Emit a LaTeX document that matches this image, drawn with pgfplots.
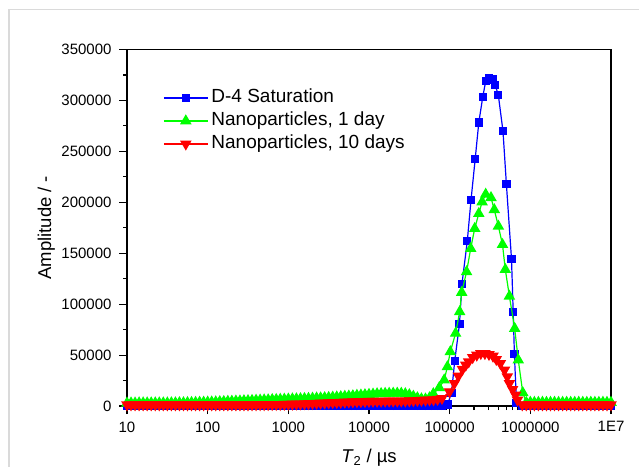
\documentclass[border=0pt]{standalone}
\usepackage{pgfplots}
\pgfplotsset{compat=1.18}
\usepackage{pgfplotstable}
\usepackage{fontspec}
\setmainfont{Liberation Sans}

\pgfplotstableread{
x y
1e1 0
1.259e1 0
1.585e1 0
1.995e1 0
2.512e1 0
3.162e1 0
3.981e1 0
5.012e1 0
6.310e1 0
7.943e1 0
1e2 0
1.259e2 0
1.585e2 0
1.995e2 0
2.512e2 0
3.162e2 0
3.981e2 0
5.012e2 0
6.310e2 0
7.943e2 0
1e3 0
1.259e3 0
1.585e3 0
1.995e3 0
2.512e3 0
3.162e3 0
3.981e3 0
5.012e3 0
6.310e3 0
7.943e3 0
1e4 0
1.259e4 0
1.585e4 0
1.995e4 0
2.512e4 0
3.162e4 0
3.981e4 0
5.012e4 0
6.310e4 0
7.943e4 0
9.40e4 1500
1.053e5 12700
1.154e5 44000
1.323e5 80400
1.421e5 120000
1.654e5 162000
1.838e5 202000
2.073e5 242700
2.296e5 278300
2.574e5 303600
2.804e5 319300
3.090e5 321500
3.395e5 320600
3.667e5 315000
4.006e5 305500
4.581e5 269800
5.050e5 217600
5.840e5 144400
6.131e5 92300
6.345e5 50800
6.735e5 3000
7.943e5 0
1e6 0
1.259e6 0
1.585e6 0
1.995e6 0
2.512e6 0
3.162e6 0
3.981e6 0
5.012e6 0
6.310e6 0
7.943e6 0
1e7 0
}\tblue

\pgfplotstableread{
x y
1e1 2800
1.122e1 2900
1.259e1 2900
1.413e1 3000
1.585e1 3000
1.778e1 3000
1.995e1 3000
2.239e1 3000
2.512e1 3000
2.818e1 3000
3.162e1 3000
3.548e1 3100
3.981e1 3100
4.467e1 3200
5.012e1 3200
5.623e1 3300
6.310e1 3400
7.079e1 3500
7.943e1 3600
8.913e1 3700
1e2 3800
1.122e2 3900
1.259e2 4000
1.413e2 4200
1.585e2 4300
1.778e2 4500
1.995e2 4600
2.239e2 4800
2.512e2 4900
2.818e2 5100
3.162e2 5200
3.548e2 5400
3.981e2 5600
4.467e2 5700
5.012e2 5900
5.623e2 6000
6.310e2 6200
7.079e2 6300
7.943e2 6500
8.913e2 6600
1e3 6800
1.122e3 6900
1.259e3 7000
1.413e3 7100
1.585e3 7300
1.778e3 7400
1.995e3 7600
2.239e3 7800
2.512e3 7900
2.818e3 8100
3.162e3 8300
3.548e3 8600
3.981e3 8800
4.467e3 9100
5.012e3 9400
5.623e3 9700
6.310e3 10000
7.079e3 10400
7.943e3 10700
8.913e3 11000
1e4 11300
1.122e4 11600
1.259e4 11900
1.413e4 12100
1.585e4 12300
1.778e4 12400
1.995e4 12500
2.239e4 12500
2.512e4 12400
2.818e4 12000
3.162e4 11000
3.548e4 9500
3.981e4 8000
4.467e4 7000
5.012e4 6800
5.623e4 8000
6.27e4 12000
7.435e4 18000
8.55e4 25500
9.37e4 38500
1.018e5 53200
1.184e5 71300
1.331e5 92500
1.409e5 111500
1.621e5 131700
1.822e5 154600
2.043e5 174200
2.296e5 188900
2.523e5 200300
2.796e5 207800
3.253e5 204500
3.574e5 192700
4.017e5 176500
4.516e5 158500
4.894e5 134000
5.501e5 107800
6.397e5 76100
7.089e5 45100
8.062e5 13000
8.913e5 3500
1e6 3600
1.122e6 3500
1.259e6 3500
1.413e6 3600
1.585e6 3500
1.778e6 3500
1.995e6 3600
2.239e6 3500
2.512e6 3500
2.818e6 3600
3.162e6 3500
3.548e6 3500
3.981e6 3600
4.467e6 3500
5.012e6 3500
5.623e6 3600
6.310e6 3500
7.079e6 3500
7.943e6 3600
8.913e6 3500
1e7 3500
}\tgreen

\pgfplotstableread{
x y
1e1 1200
1.122e1 1200
1.259e1 1200
1.413e1 1200
1.585e1 1200
1.778e1 1200
1.995e1 1200
2.239e1 1200
2.512e1 1200
2.818e1 1200
3.162e1 1200
3.548e1 1200
3.981e1 1200
4.467e1 1200
5.012e1 1200
5.623e1 1200
6.310e1 1200
7.079e1 1200
7.943e1 1200
8.913e1 1200
1e2 1200
1.122e2 1200
1.259e2 1200
1.413e2 1200
1.585e2 1200
1.778e2 1200
1.995e2 1200
2.239e2 1200
2.512e2 1200
2.818e2 1200
3.162e2 1200
3.548e2 1300
3.981e2 1300
4.467e2 1400
5.012e2 1400
5.623e2 1500
6.310e2 1500
7.079e2 1600
7.943e2 1600
8.913e2 1700
1e3 1800
1.122e3 1900
1.259e3 2000
1.413e3 2100
1.585e3 2300
1.778e3 2400
1.995e3 2600
2.239e3 2700
2.512e3 2900
2.818e3 3000
3.162e3 3200
3.548e3 3400
3.981e3 3500
4.467e3 3700
5.012e3 3900
5.623e3 4000
6.310e3 4200
7.079e3 4300
7.943e3 4400
8.913e3 4500
1e4 4600
1.122e4 4700
1.259e4 4800
1.413e4 4800
1.585e4 4900
1.778e4 4900
1.995e4 4900
2.239e4 4900
2.512e4 5000
2.818e4 5000
3.162e4 5100
3.548e4 5300
3.981e4 5500
4.467e4 5700
5.012e4 5800
5.623e4 6000
6.310e4 6200
7.079e4 6600
8.03e4 7500
9.95e4 14000
1.144e5 22200
1.283e5 29400
1.442e5 36000
1.584e5 40200
1.721e5 43400
1.929e5 47700
2.169e5 50000
2.431e5 51600
2.733e5 51600
3.072e5 50700
3.444e5 49000
3.784e5 45800
4.253e5 41800
4.782e5 35300
5.181e5 28700
5.501e5 22200
6.026e5 16300
6.545e5 10800
6.929e5 5900
7.943e5 1200
8.913e5 1200
1e6 1200
1.122e6 1200
1.259e6 1200
1.413e6 1200
1.585e6 1200
1.778e6 1200
1.995e6 1200
2.239e6 1200
2.512e6 1200
2.818e6 1200
3.162e6 1200
3.548e6 1200
3.981e6 1200
4.467e6 1200
5.012e6 1200
5.623e6 1200
6.310e6 1200
7.079e6 1200
7.943e6 1200
8.913e6 1200
1e7 1200
}\tred

\definecolor{oblue}{RGB}{0,0,255}
\definecolor{ogreen}{RGB}{0,255,0}
\definecolor{ored}{RGB}{255,0,0}
\definecolor{frame}{RGB}{218,218,218}

\begin{document}
\begin{tikzpicture}
\useasboundingbox (0pt,0pt) rectangle (639pt,466pt);
\clip (0pt,0pt) rectangle (639pt,466pt);
\draw[frame, line width=1.5pt] (9pt,-5pt) -- (9pt,456.5pt) -- (645pt,456.5pt);
\begin{axis}[
  scale only axis, width=484pt, height=356.5pt,
  at={(127pt,60pt)}, anchor=south west,
  xmode=log, xmin=10, xmax=1e7,
  ymin=0, ymax=350000,
  clip mode=individual,
  xtick={10,100,1000,10000,100000,1000000,10000000},
  xticklabels={10,100,1000,10000,100000,1000000,1E7},
  minor xtick={20,30,40,50,60,70,80,90,200,300,400,500,600,700,800,900,2000,3000,4000,5000,6000,7000,8000,9000,20000,30000,40000,50000,60000,70000,80000,90000,200000,300000,400000,500000,600000,700000,800000,900000,2000000,3000000,4000000,5000000,6000000,7000000,8000000,9000000},
  ytick={0,50000,100000,150000,200000,250000,300000,350000},
  minor ytick={25000,75000,125000,175000,225000,275000,325000},
  tick align=outside, xtick pos=bottom, ytick pos=left,
  major tick length=8pt, minor tick length=4pt,
  every tick/.style={black, line width=1.1pt},
  axis line style={line width=1.1pt},
  scaled y ticks=false,
  yticklabel style={/pgf/number format/fixed, /pgf/number format/1000 sep={}, /pgf/number format/assume math mode=true, xshift=-4pt},
  xticklabel style={yshift=-4pt},
  tick label style={font=\fontsize{15}{17}\selectfont},
  xlabel={\textit{T}\textsubscript{2} / µs},
  ylabel={Amplitude / -},
  xlabel style={at={(axis description cs:0.5,-0.1585)}, anchor=base, font=\fontsize{18.5}{22}\selectfont, inner sep=0pt},
  ylabel style={at={(axis description cs:-0.157,0.5)}, anchor=base, font=\fontsize{18.5}{22}\selectfont, inner sep=0pt},
  legend style={at={(axis description cs:0.0744,0.8892)}, anchor=north west, draw=none, fill=none, inner sep=0pt,
    font=\fontsize{19}{22}\selectfont, nodes={inner sep=0pt, text height=13.5pt, text depth=4pt},
    row sep=5.5pt, column sep=3pt},
  legend cell align=left,
  legend image code/.code={\draw[mark repeat=2, mark phase=2] plot coordinates {(0pt,0pt) (22pt,0pt) (44pt,0pt)};},
]
\addplot[oblue, line width=1.2pt, mark=square*, mark size=3.5pt, mark options={oblue, solid}] table[x=x,y=y] {\tblue};
\addlegendentry{D-4 Saturation}
\addplot[ogreen, line width=1.2pt, mark=triangle*, mark size=5.5pt, mark options={ogreen, solid}] table[x=x,y=y] {\tgreen};
\addlegendentry{Nanoparticles, 1 day}
\addplot[ored, line width=1.2pt, mark=triangle*, mark size=5.5pt, mark options={ored, solid, rotate=180}] table[x=x,y=y] {\tred};
\addlegendentry{Nanoparticles, 10 days}
\end{axis}
\end{tikzpicture}
\end{document}
